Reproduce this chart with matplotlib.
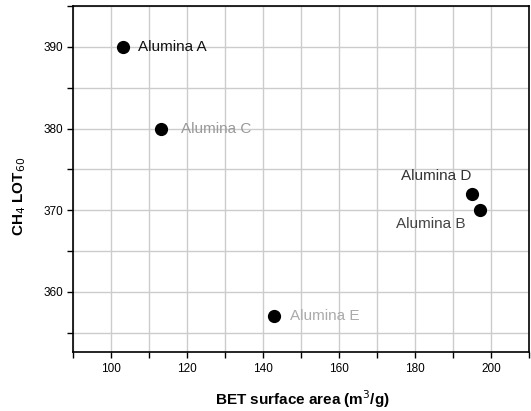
import matplotlib
matplotlib.use("Agg")
import matplotlib.pyplot as plt
from matplotlib.ticker import MultipleLocator

plt.rcParams['font.family'] = ['Liberation Sans', 'DejaVu Sans']

# BET surface area vs CH4 light-off temperature
names = ["Alumina A", "Alumina C", "Alumina E", "Alumina D", "Alumina B"]
bet_area = [103, 113, 142.7, 195, 197]
lot60 = [390, 380, 357, 372, 370]
label_x = [106.9, 118.3, 146.9, 176.2, 175.0]
label_y = [390, 380, 357, 374.2, 368.3]
label_colors = ["#111111", "#999999", "#aaaaaa", "#333333", "#444444"]

fig = plt.figure(figsize=(5.31, 4.11), dpi=100)
ax = fig.add_axes([0.138, 0.1428, 0.8588, 0.8426])

ax.plot(bet_area, lot60, "o", color="black", markersize=8.5, zorder=3)
for n, x, y, c in zip(names, label_x, label_y, label_colors):
    ax.text(x, y, n, color=c, fontsize=11, va="center", ha="left")

ax.set_xlim(90, 210)
ax.set_ylim(352.6, 395)
ax.xaxis.set_major_locator(MultipleLocator(20))
ax.xaxis.set_minor_locator(MultipleLocator(10))
ax.yaxis.set_major_locator(MultipleLocator(10))
ax.yaxis.set_minor_locator(MultipleLocator(5))
ax.grid(True, which="both", color="#cccccc", linewidth=1.0)
ax.set_axisbelow(True)

ax.tick_params(which="both", direction="out", length=4, width=1, labelsize=8.5,
               top=False, right=False)
for s in ax.spines.values():
    s.set_linewidth(1.2)

ax.set_xlabel("BET surface area (m$^3$/g)", fontsize=11, fontweight="bold")
ax.set_ylabel("CH$_4$ LOT$_{60}$", fontsize=11, fontweight="bold")
ax.xaxis.set_label_coords(0.503, -0.105)
ax.yaxis.set_label_coords(-0.10, 0.45)

fig.savefig("out.png", dpi=100)
